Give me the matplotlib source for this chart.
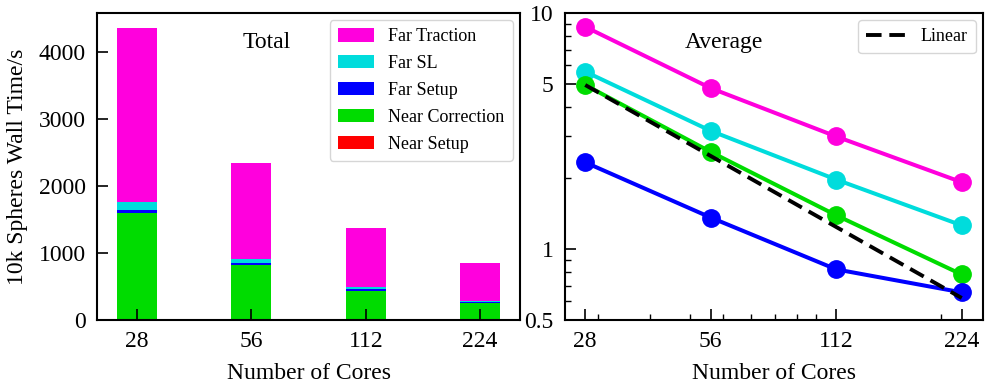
import numpy as np
import matplotlib
matplotlib.use('Agg')
import matplotlib.pyplot as plt
from matplotlib import ticker

plt.rcParams['font.family'] = 'Liberation Serif'
plt.rcParams['font.size'] = 17
plt.rcParams['xtick.direction'] = 'in'
plt.rcParams['ytick.direction'] = 'in'

cores = [28, 56, 112, 224]
cores_lbl = ['28', '56', '112', '224']

# total wall time per phase (stacked, bottom to top)
near_setup = np.array([5, 3, 2, 1])
near_corr = np.array([1592, 818, 435, 248])
far_setup = np.array([45, 34, 26, 20])
far_sl = np.array([119, 60, 30, 15])
far_trac = np.array([2597, 1423, 885, 562])

# average times
avg_trac = np.array([8.75, 4.81, 3.0, 1.92])
avg_sl = np.array([5.65, 3.17, 1.97, 1.26])
avg_corr = np.array([4.96, 2.58, 1.39, 0.78])
avg_setup = np.array([2.33, 1.36, 0.82, 0.655])

c_trac = '#ff00dd'
c_sl = '#00dcdc'
c_setup = '#0000ff'
c_corr = '#00dc00'
c_nset = '#ff0000'

fig = plt.figure(figsize=(9.89, 3.87), dpi=100)
ax1 = fig.add_axes([0.098, 0.173, 0.428, 0.793])
ax2 = fig.add_axes([0.571, 0.173, 0.423, 0.793])

x = np.arange(len(cores))
w = 0.35
b = np.zeros(len(cores))
bars = []
for vals, col, lab in [(near_setup, c_nset, 'Near Setup'),
                       (near_corr, c_corr, 'Near Correction'),
                       (far_setup, c_setup, 'Far Setup'),
                       (far_sl, c_sl, 'Far SL'),
                       (far_trac, c_trac, 'Far Traction')]:
    h = ax1.bar(x, vals, w, bottom=b, color=col, label=lab)
    bars.append(h)
    b = b + vals
ax1.set_xlim(-0.35, 3.35)
ax1.set_ylim(0, 4580)
ax1.set_xticks(x)
ax1.set_xticklabels(cores_lbl)
ax1.set_yticks([0, 1000, 2000, 3000, 4000])
ax1.tick_params(length=8, width=1.2, pad=8)
ax1.set_xlabel('Number of Cores', labelpad=8)
ax1.set_ylabel('10k Spheres Wall Time/s', labelpad=8)
ax1.text(0.40, 0.905, 'Total', transform=ax1.transAxes, ha='center', va='center', fontsize=17)
ax1.legend(bars[::-1], [h.get_label() for h in bars[::-1]], loc='upper right',
           fontsize=13, handlelength=2.0, handleheight=0.75, labelspacing=0.55,
           borderpad=0.45, borderaxespad=0.3, bbox_to_anchor=(0.995, 0.995))

lw = 2.9
ms = 12.5
ax2.plot(cores, avg_trac, '-o', color=c_trac, lw=lw, ms=ms)
ax2.plot(cores, avg_sl, '-o', color=c_sl, lw=lw, ms=ms)
ax2.plot(cores, avg_corr, '-o', color=c_corr, lw=lw, ms=ms)
ax2.plot(cores, avg_setup, '-o', color=c_setup, lw=lw, ms=ms)
linear = avg_corr[0] * cores[0] / np.array(cores)
ax2.plot(cores, linear, '--', color='k', lw=2.8, dashes=(4, 2), label='Linear')
ax2.set_xscale('log')
ax2.set_yscale('log')
ax2.set_xlim(25, 252)
ax2.set_ylim(0.5, 10)
ax2.xaxis.set_major_locator(ticker.FixedLocator(cores))
ax2.xaxis.set_major_formatter(ticker.FixedFormatter(cores_lbl))
ax2.xaxis.set_minor_locator(ticker.FixedLocator([30, 40, 50, 60, 70, 80, 90, 100, 200]))
ax2.xaxis.set_minor_formatter(ticker.NullFormatter())
ax2.yaxis.set_major_locator(ticker.FixedLocator([0.5, 1, 5, 10]))
ax2.yaxis.set_major_formatter(ticker.FixedFormatter(['0.5', '1', '5', '10']))
ax2.yaxis.set_minor_locator(ticker.FixedLocator([0.6, 0.7, 0.8, 0.9, 2, 3, 4, 6, 7, 8, 9]))
ax2.yaxis.set_minor_formatter(ticker.NullFormatter())
ax2.tick_params(which='major', length=8, width=1.2, pad=8)
ax2.tick_params(which='minor', length=4, width=1)
ax2.set_xlabel('Number of Cores', labelpad=8)
ax2.text(0.38, 0.905, 'Average', transform=ax2.transAxes, ha='center', va='center', fontsize=17)
ax2.legend(loc='upper right', fontsize=13, handlelength=2.2, borderpad=0.45,
           borderaxespad=0.3, bbox_to_anchor=(0.995, 0.995))

for ax in (ax1, ax2):
    for s in ax.spines.values():
        s.set_linewidth(1.5)

fig.savefig('out.png', dpi=100)
